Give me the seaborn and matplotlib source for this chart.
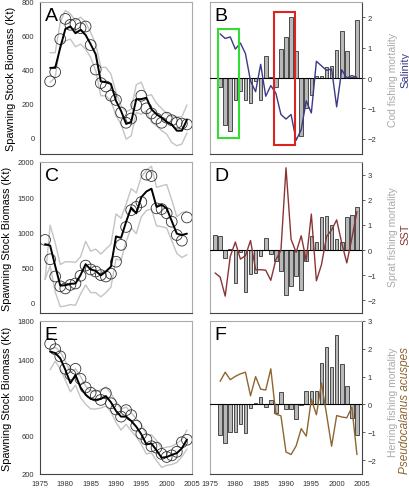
import numpy as np
import pandas as pd
import matplotlib
matplotlib.use("Agg")
import matplotlib.pyplot as plt
import seaborn as sns
from matplotlib.patches import Rectangle

sns.set_theme(style="white")
plt.rcParams['font.family'] = ['Liberation Sans', 'DejaVu Sans']

# years
cod_years = list(range(1977, 2005))
sprat_years = list(range(1976, 2005))
herring_years = list(range(1977, 2005))

# A: cod spawning stock biomass (kt)
cod_obs = [330, 385, 580, 700, 665, 670, 645, 655, 545, 400, 320, 300, 245, 220,
           145, 85, 110, 190, 245, 170, 140, 110, 85, 115, 100, 85, 80, 75]
cod_fit = [410, 410, 530, 640, 655, 615, 635, 605, 550, 490, 330, 325, 315, 215,
           155, 78, 90, 225, 225, 233, 165, 135, 115, 90, 75, 38, 38, 103]
cod_hi = [500, 500, 680, 750, 730, 690, 710, 680, 620, 550, 413, 413, 373, 265,
          186, 150, 165, 310, 325, 245, 250, 200, 170, 140, 120, 120, 120, 190]
cod_lo = [324, 354, 551, 570, 580, 535, 551, 521, 472, 393, 245, 245, 215, 126,
          77, -12, 8, 146, 136, 156, 87, 67, 38, 18, -32, -51, -41, 25]

# C: sprat spawning stock biomass (kt)
sprat_obs = [890, 615, 370, 230, 200, 250, 270, 380, 525, 470, 440, 390, 370, 410, 580,
             820, 1075, 1315, 1360, 1430, 1820, 1800, 1340, 1330, 1270, 1150, 960, 880, 1210]
sprat_fit = [830, 810, 520, 240, 245, 265, 270, 390, 545, 470, 450, 385, 440, 510, 940,
             920, 1150, 1350, 1270, 1500, 1580, 1620, 1360, 1390, 1340, 1160, 980, 960, 980]
sprat_hi = [330, 1100, 850, 540, 580, 580, 570, 650, 870, 730, 760, 690, 760, 830, 1260,
            1200, 1400, 1620, 1560, 1790, 1880, 1940, 1640, 1660, 1680, 1460, 1220, 1280, 1300]
sprat_lo = [330, 520, 150, -60, -50, -30, -40, 120, 250, 140, 140, 80, 140, 220, 620,
            600, 870, 1060, 980, 1220, 1310, 1330, 1090, 1080, 1060, 880, 700, 640, 680]

# E: herring spawning stock biomass (kt)
herring_obs = [1562, 1505, 1430, 1300, 1240, 1300, 1195, 1105, 1050, 1020, 975, 1045, 940, 875,
               800, 868, 815, 705, 620, 562, 490, 475, 410, 378, 395, 432, 532, 558]
herring_fit = [1480, 1465, 1410, 1290, 1150, 1235, 1105, 1030, 985, 975, 985, 1015, 950, 860,
               800, 800, 755, 695, 615, 510, 518, 448, 370, 378, 400, 418, 468, 560]
herring_hi = [1500, 1525, 1480, 1380, 1260, 1300, 1220, 1120, 1070, 1060, 1080, 1110, 1040, 960,
              880, 900, 840, 780, 720, 610, 610, 550, 470, 480, 490, 520, 560, 660]
herring_lo = [1290, 1380, 1300, 1180, 1060, 1130, 1000, 930, 880, 880, 890, 910, 850, 740,
              660, 720, 650, 590, 510, 410, 420, 340, 270, 290, 300, 320, 380, 460]

# B: cod fishing mortality and salinity (anomalies)
cod_f = [-0.3, -1.55, -1.73, -0.74, -0.43, -0.74, -0.82, -0.1, -0.74, 0.74, 0.03, -0.3, 0.95, 1.35,
         2.02, 0.88, -1.9, -1.0, -0.57, 0.05, 0.08, 0.35, 0.38, 0.93, 1.55, 0.88, 0.02, 1.9]
salinity = [1.45, 1.3, 1.35, 0.95, 1.15, 0.8, -0.1, -0.45, 0.45, -0.6, -0.25, -0.5, -1.2, -1.35,
            -1.2, -2.05, -1.7, -0.75, -1.15, 0.55, 0.4, 0.25, 0.3, -0.95, 0.27, 0.0, 0.08, 0.02]

# D: sprat fishing mortality and SST (anomalies)
sprat_f = [0.6, 0.55, -0.32, 0.05, -1.3, -0.08, -1.67, -0.97, -0.9, -0.25, 0.5, -0.16, -0.45, -0.82,
           -1.8, -1.41, -1.04, -1.57, -0.45, 0.57, 0.33, 1.33, 1.36, 1.0, 0.43, 0.33, 1.33, 1.38, 1.7]
sst = [-0.91, -1.07, -1.83, -0.25, 0.32, -0.36, -0.22, 0.38, -0.78, -0.78, -0.8, -1.2, -0.38, -0.01,
       3.27, 0.43, -0.09, 0.57, -0.42, 1.43, -1.22, -0.58, 0.54, 0.8, 1.2, 0.28, -0.51, 0.47, 1.53]

# F: herring fishing mortality and Pseudocalanus acuspes (anomalies)
herring_f = [-1.1, -1.38, -0.99, -0.99, -0.71, -1.01, -0.14, 0.04, 0.28, -0.1, 0.16, -0.3, 0.45, -0.16,
             -0.18, -0.53, -0.02, 0.49, 0.49, 0.49, 1.48, 2.08, 1.36, 2.48, 1.46, 0.67, -0.47, -1.1]
pseudo = [0.83, 1.16, 0.89, 1.01, 1.1, 1.16, 0.31, 1.0, 0.55, 0.52, 1.28, -0.35, -0.41, -1.71,
          -1.8, -1.49, -0.87, -1.14, 0.19, -0.37, 0.77, -0.35, -1.5, -0.4, -0.45, -0.48, -0.1, -1.8]

W, H = 410, 489
fig = plt.figure(figsize=(W / 100, H / 100), dpi=100)

def box(x0, y0, x1, y1):
    return [x0 / W, 1 - y1 / H, (x1 - x0) / W, (y1 - y0) / H]

dark = '#444444'
light = '#aaaaaa'

def style(ax, side):
    for s in ax.spines.values():
        s.set_linewidth(0.8)
        s.set_color(light)
    ax.spines['bottom'].set_color(dark)
    ax.spines[side].set_color(dark)
    ax.tick_params(direction='out', length=2.5, width=0.6, color=dark,
                   labelsize=5.5, labelcolor='#333333', pad=1.5)
    ax.set_xlim(1975, 2005)
    ax.set_xticks(range(1975, 2006, 5))
    ax.set_xlabel('')
    ax.set_ylabel('')

def ssb_panel(ax, years, obs, fit, hi, lo, ylim, yticks, letter):
    df = pd.DataFrame({'year': years, 'obs': obs, 'fit': fit, 'hi': hi, 'lo': lo})
    sns.lineplot(data=df, x='year', y='hi', color='#c4c4c4', lw=1.0, ax=ax)
    sns.lineplot(data=df, x='year', y='lo', color='#c4c4c4', lw=1.0, ax=ax)
    sns.scatterplot(data=df, x='year', y='obs', s=60, facecolor='none',
                    edgecolor='#333333', linewidth=0.6, ax=ax, zorder=3)
    sns.lineplot(data=df, x='year', y='fit', color='black', lw=1.4, ax=ax, zorder=4)
    ax.set_ylim(*ylim)
    ax.set_yticks(yticks)
    style(ax, 'left')
    ax.text(0.03, 0.97, letter, transform=ax.transAxes, fontsize=14,
            va='top', ha='left', color='black')

def anom_panel(ax, years, bars, env, env_color, ylim, yticks, letter):
    df = pd.DataFrame({'year': years, 'bars': bars, 'env': env})
    sns.barplot(data=df, x='year', y='bars', native_scale=True, width=0.7,
                color='#b8b8b8', edgecolor='#333333', linewidth=0.6,
                saturation=1, ax=ax, zorder=2)
    ax.axhline(0, color='black', lw=0.8, zorder=3)
    sns.lineplot(data=df, x='year', y='env', color=env_color, lw=1.0, ax=ax, zorder=4)
    ax.set_ylim(*ylim)
    ax.set_yticks(yticks)
    ax.yaxis.tick_right()
    style(ax, 'right')
    ax.text(0.03, 0.97, letter, transform=ax.transAxes, fontsize=14,
            va='top', ha='left', color='black')

axA = fig.add_axes(box(40, 3, 192, 155))
axC = fig.add_axes(box(40, 163, 192, 314))
axE = fig.add_axes(box(40, 322, 192, 475))
axB = fig.add_axes(box(210, 3, 362, 155))
axD = fig.add_axes(box(210, 163, 362, 314))
axF = fig.add_axes(box(210, 322, 362, 475))

ssb_panel(axA, cod_years, cod_obs, cod_fit, cod_hi, cod_lo, (-100, 800), [0, 200, 400, 600, 800], 'A')
ssb_panel(axC, sprat_years, sprat_obs, sprat_fit, sprat_hi, sprat_lo, (-150, 2000),
          [0, 500, 1000, 1500, 2000], 'C')
ssb_panel(axE, herring_years, herring_obs, herring_fit, herring_hi, herring_lo, (200, 1800),
          [200, 600, 1000, 1400, 1800], 'E')

anom_panel(axB, cod_years, cod_f, salinity, '#3a3a88', (-2.5, 2.5), [-2, -1, 0, 1, 2], 'B')
anom_panel(axD, sprat_years, sprat_f, sst, '#8a3535', (-2.5, 3.5), [-2, -1, 0, 1, 2, 3], 'D')
anom_panel(axF, herring_years, herring_f, pseudo, '#8f6530', (-2.5, 3.0), [-2, -1, 0, 1, 2, 3], 'F')

for ax in (axA, axC, axB, axD):
    ax.tick_params(axis='x', labelbottom=False)

axB.add_patch(Rectangle((1976.5, -1.98), 4.27, 3.6, fill=False, edgecolor='#33dd33', lw=1.5, zorder=5))
axB.add_patch(Rectangle((1987.6, -2.21), 4.1, 4.38, fill=False, edgecolor='#dd2222', lw=1.5, zorder=5))

for ax in (axA, axC, axE):
    ax.set_ylabel('Spawning Stock Biomass (Kt)', fontsize=7.8, color='black', labelpad=4)

gray_lab = '#aaaaaa'
fig.text(393 / W, 1 - 80 / H, 'Cod fishing mortality', rotation=90, fontsize=7.5,
         color=gray_lab, ha='center', va='center')
fig.text(405 / W, 1 - 70 / H, 'Salinity', rotation=90, fontsize=8,
         color='#3a3a88', ha='center', va='center')
fig.text(393 / W, 1 - 237 / H, 'Sprat fishing mortality', rotation=90, fontsize=7.5,
         color=gray_lab, ha='center', va='center')
fig.text(405 / W, 1 - 234 / H, 'SST', rotation=90, fontsize=8,
         color='#8a3535', ha='center', va='center')
fig.text(393 / W, 1 - 402 / H, 'Herring fishing mortality', rotation=90, fontsize=7.5,
         color=gray_lab, ha='center', va='center')
fig.text(405 / W, 1 - 411 / H, 'Pseudocalanus acuspes', rotation=90, fontsize=8.5,
         color='#8f6530', ha='center', va='center', style='italic')

fig.savefig('out.png', dpi=100)
